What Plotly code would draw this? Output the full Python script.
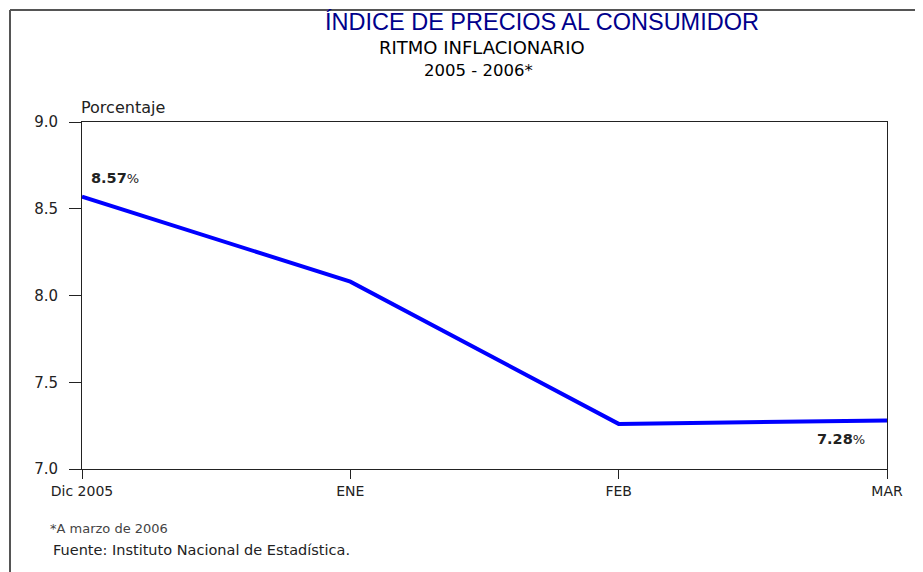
import plotly.graph_objects as go

categories = ["Dic 2005", "ENE", "FEB", "MAR"]
values = [8.57, 8.08, 7.26, 7.28]
y_ticks = [7.0, 7.5, 8.0, 8.5, 9.0]
y_tick_labels = ["7.0", "7.5", "8.0", "8.5", "9.0"]

# page body has an 8px default margin; figure is sized to fill the rest
OFF = 8
W, H = 923 - OFF, 572 - OFF
L, R, T, B = 82 - OFF, 36, 122 - OFF, 103
pw, ph = W - L - R, H - T - B


def px(x):  # page pixel x -> paper
    return (x - OFF - L) / pw


def py(y):  # page pixel y -> paper
    return (H - B - (y - OFF)) / ph


SANS = "DejaVu Sans, Verdana, sans-serif"
ARIAL = "Liberation Sans, Arial, sans-serif"

fig = go.Figure()
fig.add_trace(go.Scatter(
    x=list(range(len(categories))), y=values, mode="lines",
    line=dict(color="#0000ff", width=4), hoverinfo="skip", showlegend=False,
))

fig.update_layout(
    width=W, height=H,
    margin=dict(l=L, r=R, t=T, b=B),
    paper_bgcolor="white", plot_bgcolor="white",
    font=dict(family=SANS, color="#222222", size=13),
    xaxis=dict(
        range=[0, 3], tickmode="array", tickvals=list(range(len(categories))),
        ticktext=categories, showgrid=False, zeroline=False,
        ticks="outside", ticklen=9, tickcolor="#222", tickwidth=1,
        showline=True, linecolor="#222", linewidth=1, mirror=True,
        tickfont=dict(size=14, color="#222", family=SANS),
    ),
    yaxis=dict(
        range=[7.0, 9.0], tickmode="array", tickvals=y_ticks, ticktext=y_tick_labels,
        showgrid=False, zeroline=False,
        ticks="outside", ticklen=12, tickcolor="#222", tickwidth=1,
        showline=True, linecolor="#222", linewidth=1, mirror=True,
        ticklabelstandoff=8,
        tickfont=dict(size=15, color="#222", family=SANS),
    ),
)

ann = [
    dict(text="ÍNDICE DE PRECIOS AL CONSUMIDOR", x=px(542), y=py(22),
         font=dict(size=23.5, color="#00008b", family=ARIAL)),
    dict(text="RITMO INFLACIONARIO", x=px(482), y=py(47),
         font=dict(size=18, color="#000", family=SANS)),
    dict(text="2005 - 2006*", x=px(478), y=py(70),
         font=dict(size=16.5, color="#000", family=SANS)),
    dict(text="Porcentaje", x=px(79), y=py(108), xanchor="left",
         font=dict(size=16, color="#222", family=SANS)),
    dict(text="*A marzo de 2006", x=px(48), y=py(528), xanchor="left",
         font=dict(size=13, color="#444", family=SANS)),
    dict(text="Fuente: Instituto Nacional de Estadística.", x=px(51), y=py(550), xanchor="left",
         font=dict(size=14.5, color="#222", family=SANS)),
]
for a in ann:
    a.update(xref="paper", yref="paper", showarrow=False)
    a.setdefault("xanchor", "center")
    a["yanchor"] = "middle"
    fig.add_annotation(**a)

fig.add_annotation(x=0, y=values[0], xref="x", yref="y",
                   text="<b>8.57</b><span style='font-size:13px'>%</span>",
                   showarrow=False, xanchor="left", yanchor="middle",
                   xshift=7, yshift=19, font=dict(size=14.5, color="#222", family=SANS))
fig.add_annotation(x=3, y=values[3], xref="x", yref="y",
                   text="<b>7.28</b><span style='font-size:13px'>%</span>",
                   showarrow=False, xanchor="right", yanchor="middle",
                   xshift=-20, yshift=-19, font=dict(size=14.5, color="#222", family=SANS))

# outer frame (top and left edges)
fig.add_shape(type="line", xref="paper", yref="paper",
              x0=px(10), x1=px(923 + 5), y0=py(10), y1=py(10),
              line=dict(color="#555", width=2))
fig.add_shape(type="line", xref="paper", yref="paper",
              x0=px(10), x1=px(10), y0=py(10), y1=py(572 + 5),
              line=dict(color="#555", width=2))

fig.write_html("out.html")
